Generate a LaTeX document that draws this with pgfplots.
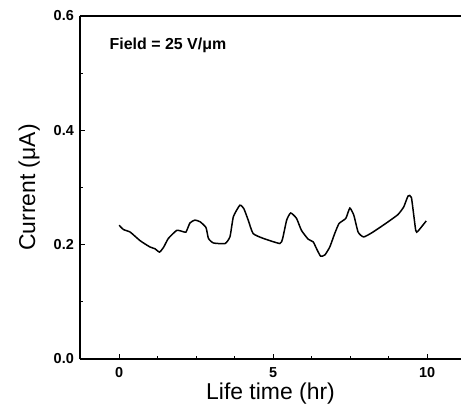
\documentclass[border=0pt]{standalone}
\usepackage{pgfplots}
\pgfplotsset{compat=1.18}
\usepackage{fontspec}
\setmainfont{Liberation Sans}
\usetikzlibrary{calc}
\begin{document}
\begin{tikzpicture}
\begin{axis}[
  scale only axis, width=381bp, height=343bp,
  xmin=-1.27, xmax=11.1, ymin=0, ymax=0.6,
  axis x line=box, axis y line*=left,
  xtick pos=bottom, ytick pos=left,
  axis line style={line width=1.6bp},
  tick align=inside,
  major tick length=5bp, minor tick length=3bp,
  tick style={line width=1bp, black},
  xtick={0,5,10}, minor x tick num=3,
  ytick={0,0.2,0.4,0.6}, minor y tick num=1,
  /pgf/number format/assume math mode=true,
  ticklabel style={font=\bfseries\fontsize{14.5}{14.5}\selectfont, inner sep=2pt},
  yticklabel style={/pgf/number format/.cd, fixed, fixed zerofill, precision=1, /tikz/.cd, xshift=-4bp},
  xticklabel style={yshift=-6bp},
  xlabel={Life time (hr)}, ylabel={Current (μA)},
  label style={font=\fontsize{23}{23}\selectfont},
  xlabel style={at={(axis description cs:0.5,-0.1195)}, anchor=base},
  ylabel style={at={(axis description cs:-0.118,0.5)}, anchor=base},
  clip=false,
]
\addplot[black, line width=1.5bp, smooth, tension=0.3] coordinates {
(0,0.234) (0.14,0.2265) (0.36,0.222) (0.68,0.207) (1.0,0.196) (1.16,0.193)
(1.31,0.187) (1.44,0.195) (1.60,0.211) (1.87,0.225) (2.03,0.2235) (2.17,0.222)
(2.30,0.238) (2.46,0.243) (2.63,0.240) (2.82,0.230) (2.90,0.211) (3.06,0.203)
(3.44,0.202) (3.60,0.214) (3.71,0.249) (3.92,0.269) (4.05,0.263) (4.19,0.243)
(4.35,0.2195) (4.68,0.211) (5.22,0.202) (5.31,0.211) (5.44,0.243) (5.57,0.2555)
(5.76,0.246) (5.92,0.225) (6.14,0.2095) (6.30,0.205) (6.41,0.193) (6.54,0.180)
(6.68,0.182) (6.84,0.196) (7.00,0.2195) (7.14,0.237) (7.36,0.246) (7.49,0.264)
(7.62,0.2515) (7.76,0.222) (7.94,0.2135) (8.24,0.222) (8.68,0.238) (9.05,0.2525)
(9.24,0.266) (9.38,0.285) (9.49,0.2825) (9.63,0.225) (9.70,0.2235) (9.97,0.2415)
};
\node[anchor=west, font=\bfseries\fontsize{16}{16}\selectfont] at (axis cs:-0.42,0.548) {Field = 25 V/μm};
\end{axis}
\pgfresetboundingbox
\path ($(current axis.south west)+(-80bp,-53bp)$) rectangle ($(current axis.north east)+(0bp,16bp)$);
\end{tikzpicture}
\end{document}
